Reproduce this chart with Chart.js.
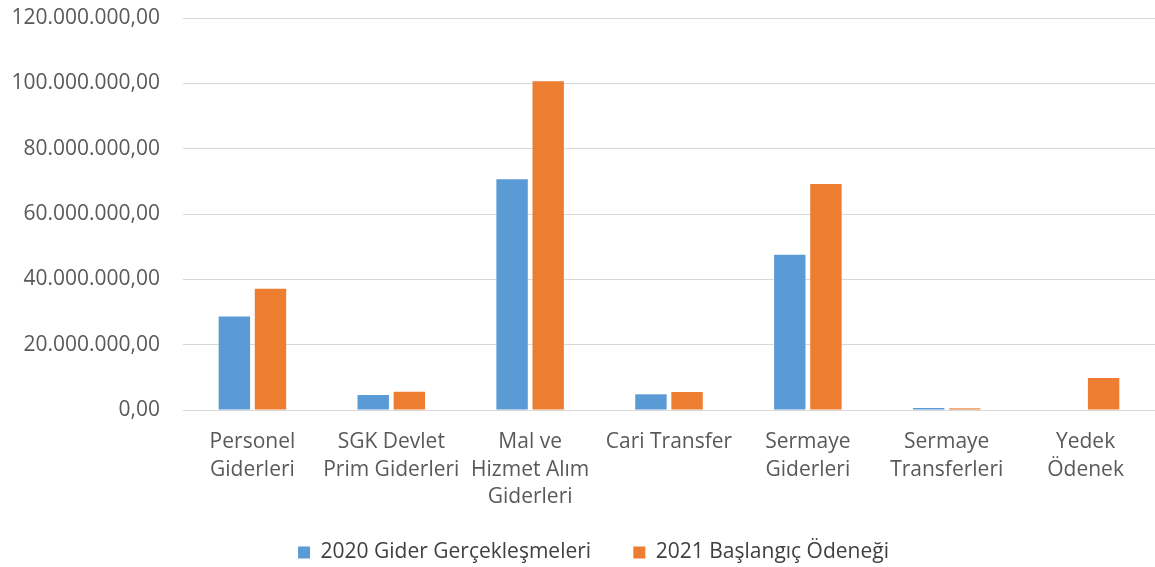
<!DOCTYPE html>
<html>
<head>
<meta charset="utf-8">
<script src="https://cdn.jsdelivr.net/npm/chart.js@4"></script>
<style>
  html, body { margin: 0; padding: 0; background: #ffffff; }
  #wrap { width: 1155px; height: 567px; }
</style>
</head>
<body>
<div id="wrap"><canvas id="giderChart"></canvas></div>
<script>
// Kategoriler ve seriler
const categories = [
  ["Personel", "Giderleri"],
  ["SGK Devlet", "Prim Giderleri"],
  ["Mal ve", "Hizmet Alım", "Giderleri"],
  ["Cari Transfer"],
  ["Sermaye", "Giderleri"],
  ["Sermaye", "Transferleri"],
  ["Yedek", "Ödenek"]
]
const seriesNames = ["2020 Gider Gerçekleşmeleri", "2021 Başlangıç Ödeneği"]
const gider2020 = [28600000, 4600000, 70600000, 4800000, 47500000, 600000, 0]
const odenek2021 = [37100000, 5600000, 100600000, 5500000, 69200000, 500000, 9800000]
const yTicks = [0, 20000000, 40000000, 60000000, 80000000, 100000000, 120000000]

const fontFamily = "'Open Sans', 'Liberation Sans', sans-serif"

function formatTR(v) {
  return v.toLocaleString("tr-TR", { minimumFractionDigits: 2, maximumFractionDigits: 2 })
}

// legend sits a bit right of the canvas centre, like the original
const legendShift = {
  id: "legendShift",
  afterLayout(chart) {
    chart.legend.left += 13
    chart.legend.right += 13
  },
}

document.addEventListener("DOMContentLoaded", () => {
  const ctx = document.getElementById("giderChart").getContext("2d")

  new Chart(ctx, {
    type: "bar",
    data: {
      labels: categories,
      datasets: [
        {
          label: seriesNames[0],
          data: gider2020,
          backgroundColor: "#5b9bd5",
          categoryPercentage: 0.52,
          barPercentage: 0.87,
        },
        {
          label: seriesNames[1],
          data: odenek2021,
          backgroundColor: "#ed7d31",
          categoryPercentage: 0.52,
          barPercentage: 0.87,
        },
      ],
    },
    options: {
      responsive: true,
      maintainAspectRatio: false,
      animation: false,
      layout: {
        padding: { top: 18, left: 6, right: 0, bottom: -6 },
      },
      plugins: {
        tooltip: { enabled: false },
        legend: {
          position: "bottom",
          labels: {
            boxWidth: 12,
            boxHeight: 12,
            padding: 4,
            color: "#404040",
            font: { family: fontFamily, size: 21 },
            generateLabels: (chart) => {
              const items = Chart.defaults.plugins.legend.labels.generateLabels(chart)
              // wider gap between the two legend entries
              items[0].text = items[0].text + "       "
              return items
            },
          },
        },
      },
      scales: {
        x: {
          grid: { display: false },
          border: { display: true, color: "#d9d9d9", width: 1 },
          afterFit: (scale) => {
            scale.height = 128
          },
          ticks: {
            color: "#595959",
            padding: 10,
            maxRotation: 0,
            minRotation: 0,
            autoSkip: false,
            font: { family: fontFamily, size: 21, lineHeight: 1.32 },
          },
        },
        y: {
          min: 0,
          max: 120000000,
          afterBuildTicks: (scale) => {
            scale.ticks = yTicks.map((v) => ({ value: v }))
          },
          afterFit: (scale) => {
            scale.width = 177
            scale.paddingTop = 0
            scale.paddingBottom = 0
          },
          grid: { color: "#d9d9d9", lineWidth: 1, drawTicks: false },
          border: { display: false },
          ticks: {
            color: "#595959",
            padding: 23,
            font: { family: fontFamily, size: 21 },
            callback: (value) => formatTR(value),
          },
        },
      },
    },
    plugins: [legendShift],
  })
})
</script>
</body>
</html>
